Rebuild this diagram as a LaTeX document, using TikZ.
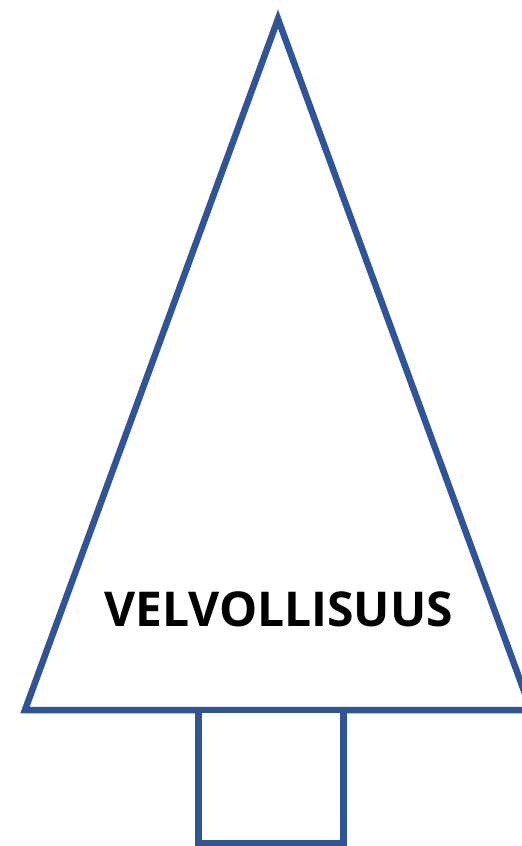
\documentclass[tikz,border=0pt]{standalone}
\usepackage{fontspec}
\setmainfont{Open Sans}
\usepackage{tikz}
\definecolor{treeblue}{HTML}{2F5597}

\begin{document}
\begin{tikzpicture}[
  x=1pt, y=-1pt,
  outline/.style={draw=treeblue, line width=6.5pt, fill=white},
  label/.style={font=\fontsize{48}{57}\selectfont\bfseries, text=black}
]
\useasboundingbox (0,0) rectangle (522,846);
% crown and trunk
\coordinate (apex) at (278,19);
\coordinate (baseL) at (25,710);
\coordinate (baseR) at (531,710);
\draw[outline, line join=miter] (baseL) -- (apex) -- (baseR) -- cycle;
\draw[outline] (198.5,710) rectangle (343.5,843.5);
\node[label] (duty) at (278.5,609) {VELVOLLISUUS};
\end{tikzpicture}
\end{document}
